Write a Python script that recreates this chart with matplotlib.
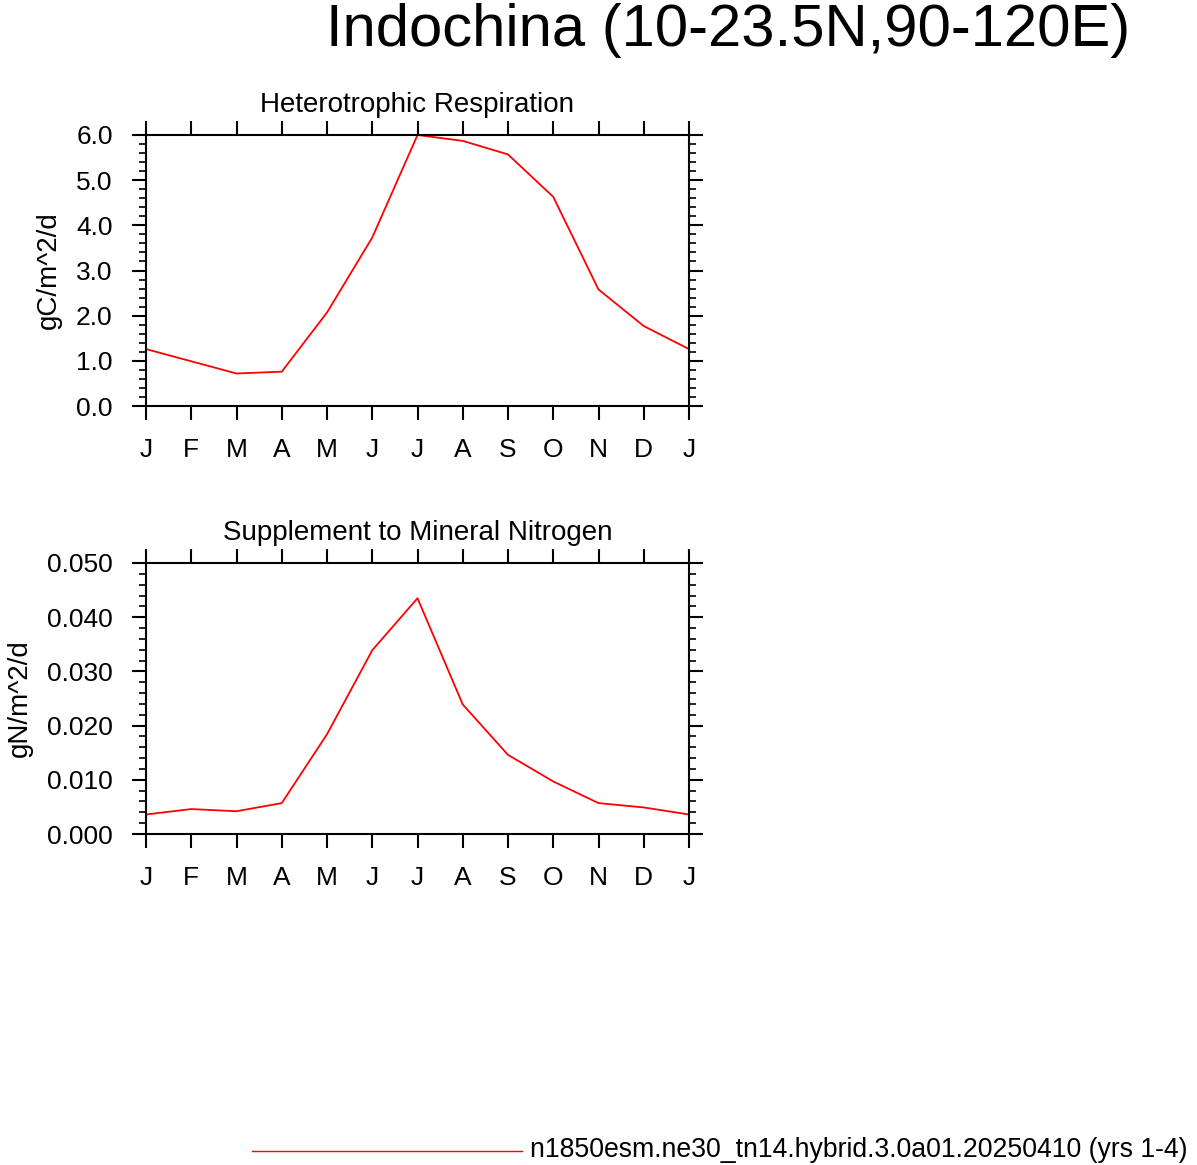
import matplotlib
matplotlib.use("Agg")
import matplotlib.pyplot as plt
from matplotlib.lines import Line2D
from matplotlib.ticker import MultipleLocator, FormatStrFormatter

plt.rcParams['font.family'] = ['Liberation Sans', 'DejaVu Sans']

# Dados (13 pontos: Jan..Dez + Jan repetido)
meses = ['J', 'F', 'M', 'A', 'M', 'J', 'J', 'A', 'S', 'O', 'N', 'D', 'J']
resp_heterotrofica = [1.26, 0.99, 0.72, 0.76, 2.07, 3.73, 6.0, 5.87, 5.57, 4.63, 2.58, 1.77, 1.26]
suplemento_n = [0.0036, 0.0046, 0.0042, 0.0057, 0.0184, 0.0339, 0.0435, 0.0239,
                0.0146, 0.0097, 0.0057, 0.0049, 0.0036]

titulo = 'Indochina (10-23.5N,90-120E)'
nome_caso = 'n1850esm.ne30_tn14.hybrid.3.0a01.20250410 (yrs 1-4)'

W, H = 1197, 1165
fig = plt.figure(figsize=(W / 100, H / 100), dpi=100)


def painel(rect, y, titulo_painel, rotulo_y, ymax, passo, minor, fmt, y_titulo):
    ax = fig.add_axes(rect)
    ax.plot(range(len(y)), y, color='red', linewidth=1.3)
    ax.set_xlim(0, len(y) - 1)
    ax.set_ylim(0, ymax)
    ax.set_xticks(range(len(meses)))
    ax.set_xticklabels(meses)
    ax.yaxis.set_major_locator(MultipleLocator(passo))
    ax.yaxis.set_minor_locator(MultipleLocator(minor))
    ax.yaxis.set_major_formatter(FormatStrFormatter(fmt))
    ax.tick_params(which='major', direction='out', length=10, width=1.5,
                   top=True, right=True, labelsize=19)
    ax.tick_params(axis='x', which='major', pad=13)
    ax.tick_params(axis='y', which='major', pad=14)
    ax.tick_params(axis='y', which='minor', direction='out', length=5, width=1.2,
                   left=True, right=True)
    for s in ax.spines.values():
        s.set_linewidth(1.5)
    ax.set_ylabel(rotulo_y, fontsize=20, labelpad=10)
    fig.text(0.5 * (rect[0] * 2 + rect[2]), 1 - y_titulo / H, titulo_painel,
             ha='center', va='center', fontsize=20)
    return ax


painel([146 / W, 1 - 406 / H, 543 / W, 271 / H], resp_heterotrofica,
       'Heterotrophic Respiration', 'gC/m^2/d', 6.0, 1.0, 0.2, '%.1f', 105)
painel([146 / W, 1 - 834 / H, 543 / W, 271 / H], suplemento_n,
       'Supplement to Mineral Nitrogen', 'gN/m^2/d', 0.05, 0.01, 0.002, '%.3f', 533)

fig.text(728 / W, 1 - 30 / H, titulo, ha='center', va='center', fontsize=43)

# Legenda no rodapé
fig.add_artist(Line2D([252 / W, 522 / W], [1 - 1151 / H, 1 - 1151 / H],
                      transform=fig.transFigure, color='red', linewidth=1))
fig.text(530 / W, 1 - 1150 / H, nome_caso, ha='left', va='center', fontsize=19.2)

fig.savefig('out.png', dpi=100)
